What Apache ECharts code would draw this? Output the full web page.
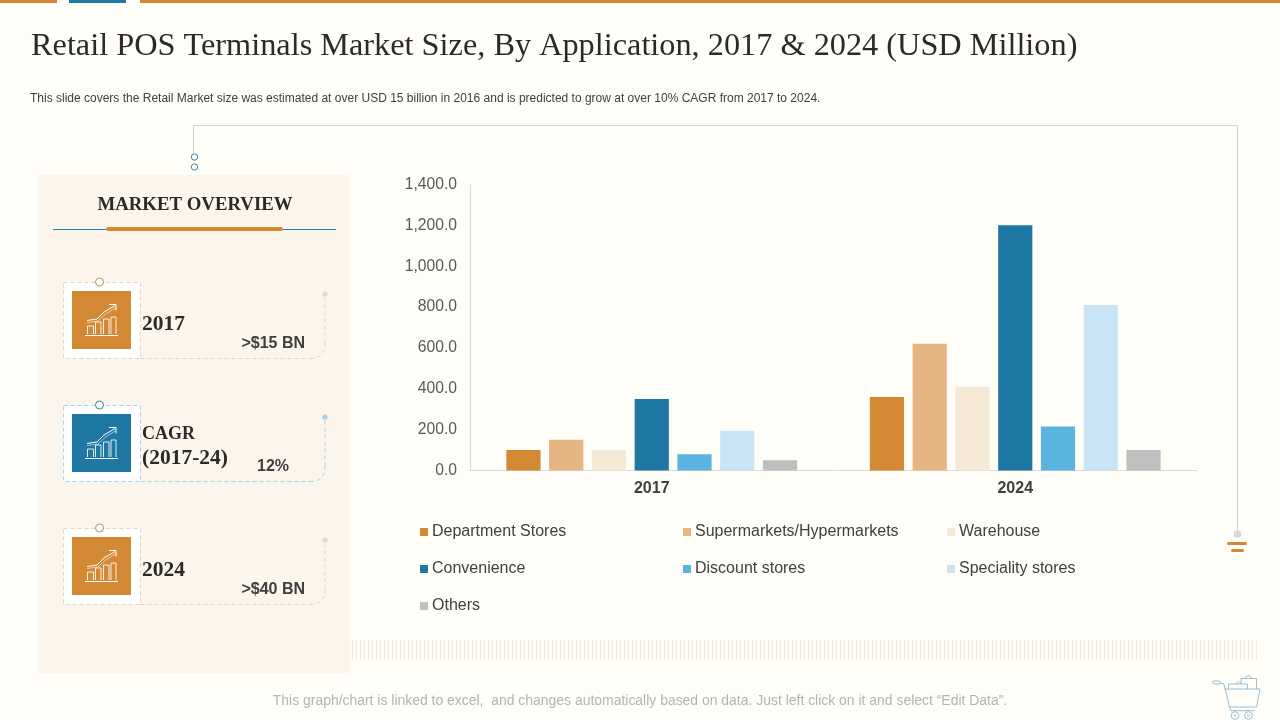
<!DOCTYPE html>
<html>
<head>
<meta charset="utf-8">
<style>
  html, body { margin: 0; padding: 0; background: #fffdf8; }
  #chart { width: 1280px; height: 720px; }
</style>
<script src="https://cdn.jsdelivr.net/npm/echarts@6/dist/echarts.min.js"></script>
</head>
<body>
<div id="chart"></div>
<script>
var categories = ["2017", "2024"];
var departmentStores = [100, 360];
var supermarkets = [150, 620];
var warehouse = [100, 410];
var convenience = [350, 1200];
var discountStores = [80, 215];
var specialityStores = [195, 810];
var others = [50, 100];

var seriesNames = ["Department Stores", "Supermarkets/Hypermarkets", "Warehouse", "Convenience", "Discount stores", "Speciality stores", "Others"];
var seriesValues = [departmentStores, supermarkets, warehouse, convenience, discountStores, specialityStores, others];
var seriesColors = ["#d38833", "#e5b582", "#f6e8d7", "#1f78a4", "#5bb4df", "#c9e5f5", "#bfbfbf"];

var ORANGE = "#d38833";
var BLUE = "#1f78a4";
var SERIF = "'Liberation Serif', serif";
var SANS = "'Liberation Sans', Arial, sans-serif";

var myChart = echarts.init(document.getElementById("chart"));
var g = [];

function rect(x, y, w, h, fill, r) {
  g.push({ type: "rect", silent: true, shape: { x: x, y: y, width: w, height: h, r: r || 0 }, style: { fill: fill } });
}
function line(points, stroke, lineWidth, dash, opacity) {
  g.push({
    type: "polyline", silent: true,
    shape: { points: points },
    style: { fill: "none", stroke: stroke, lineWidth: lineWidth, lineDash: dash || null, opacity: opacity == null ? 1 : opacity }
  });
}
function curve(x1, y1, cx, cy, x2, y2, stroke, lineWidth, dash) {
  g.push({
    type: "bezierCurve", silent: true,
    shape: { x1: x1, y1: y1, cpx1: cx, cpy1: cy, x2: x2, y2: y2 },
    style: { fill: "none", stroke: stroke, lineWidth: lineWidth, lineDash: dash || null }
  });
}
function circle(x, y, r, fill, stroke, lineWidth) {
  g.push({ type: "circle", silent: true, shape: { cx: x, cy: y, r: r }, style: { fill: fill, stroke: stroke, lineWidth: lineWidth || 0 } });
}
function text(x, y, str, font, fill, align) {
  g.push({ type: "text", silent: true, x: x, y: y, style: { text: str, font: font, fill: fill, align: align || "left", verticalAlign: "middle" } });
}

// 顶部色条
rect(0, 0, 57, 3, ORANGE);
rect(69, 0, 57, 3, BLUE);
rect(140, 0, 1140, 3, ORANGE);

// 标题
text(31, 47, "Retail POS Terminals Market Size, By Application, 2017 & 2024 (USD Million)", "32.3px " + SERIF, "#2b2a28");
text(30, 99, "This slide covers the Retail Market size was estimated at over USD 15 billion in 2016 and is predicted to grow at over 10% CAGR from 2017 to 2024.", "12px " + SANS, "#404040");

// 外框线
line([[193.5, 153], [193.5, 125.5], [1237.5, 125.5], [1237.5, 531]], "#d2d2d2", 1);
circle(194.5, 157, 3.2, "none", "#3d86ad", 1);
circle(194.5, 167, 3.2, "none", "#3d86ad", 1);
circle(1237.5, 534, 3.8, "#d9d9d9", "none", 0);
rect(1227, 542, 20, 3, ORANGE, 1.5);
rect(1231, 549, 13, 3, ORANGE, 1.5);

// 左侧面板
rect(38, 175, 312, 498, "#fbf5ec");
text(195, 205, "MARKET OVERVIEW", "bold 18.8px " + SERIF, "#2b2a28", "center");
line([[53, 229.5], [336, 229.5]], "#2a80a8", 1);
rect(106, 227, 177, 4, ORANGE, 2);

function card(top, color, dashColor, ringColor, dotColor) {
  var x = 63.5, y = top + 0.5;
  var dash = [4, 3];
  rect(x, y, 77, 76, "#ffffff");
  line([[x, y], [x + 77, y], [x + 77, y + 76], [x, y + 76], [x, y]], dashColor, 1, dash);
  line([[x + 77, y + 76], [310, y + 76]], dashColor, 1, dash);
  curve(310, y + 76, 325, y + 76, 325, y + 61, dashColor, 1, dash);
  line([[325, y + 61], [325, y + 12]], dashColor, 1, dash);
  circle(325, y + 11.5, 2.6, dotColor, "none", 0);
  circle(99.5, y - 0.5, 4, "#ffffff", ringColor, 1);
  rect(72, top + 9, 59, 58, color);
  // 图标
  var ox = 72, oy = top + 9;
  function p(a) {
    return a.map(function (pt) { return [ox + pt[0], oy + pt[1]]; });
  }
  var ic = "#ffffff";
  line(p([[13, 44.5], [46, 44.5]]), ic, 1);
  line(p([[15.5, 43], [15.5, 35], [21.5, 35], [21.5, 43]]), ic, 1, null, 0.85);
  line(p([[23.5, 43], [23.5, 31], [29, 31], [29, 43]]), ic, 1, null, 0.85);
  line(p([[31.5, 43], [31.5, 28], [37, 28], [37, 43]]), ic, 1, null, 0.85);
  line(p([[39, 43], [39, 26], [44, 26], [44, 43]]), ic, 1, null, 0.85);
  line(p([[15, 29.5], [25, 28], [32, 21], [43, 14.5]]), ic, 1);
  line(p([[15, 31.5], [26, 30], [33, 23.5], [44, 16.5]]), ic, 0.8, null, 0.7);
  line(p([[37, 13.5], [44, 13.5], [44, 19.5]]), ic, 1);
}
card(282, ORANGE, "#e8d5bd", "#b9925c", "#eed6bb");
card(405, BLUE, "#a9d3e8", "#3d7fa3", "#a6d0e8");
card(528, ORANGE, "#e8d5bd", "#b9925c", "#eed6bb");

var cardHead = "bold 21.5px " + SERIF;
var cardValue = "bold 16px " + SANS;
text(142, 324, "2017", cardHead, "#2b2a28");
text(305, 344, ">$15 BN", cardValue, "#404040", "right");
text(142, 434, "CAGR", "bold 18px " + SERIF, "#2b2a28");
text(142, 458, "(2017-24)", cardHead, "#2b2a28");
text(289, 467, "12%", cardValue, "#404040", "right");
text(142, 570, "2024", cardHead, "#2b2a28");
text(305, 590, ">$40 BN", cardValue, "#404040", "right");

// 底部竖纹
for (var hx = 352.5; hx < 1258; hx += 4) {
  line([[hx, 640], [hx, 660]], "#f3ead9", 1);
}

text(640, 701, "This graph/chart is linked to excel,  and changes automatically based on data. Just left click on it and select “Edit Data”.", "13.95px " + SANS, "#b4b4b4", "center");

// 购物车
var cart = "#7fb0ca";
line([[1220, 683], [1224, 684], [1229.5, 707], [1256.5, 707], [1260, 689], [1224.5, 689]], cart, 0.8);
line([[1229.5, 707], [1231, 710.7], [1255, 710.7]], cart, 0.8);
g.push({ type: "rect", silent: true, shape: { x: 1212.5, y: 681, width: 8, height: 3, r: 1.5 }, style: { fill: "none", stroke: cart, lineWidth: 0.8 } });
circle(1235, 715.5, 3.8, "none", cart, 0.8);
circle(1248.5, 715.5, 3.8, "none", cart, 0.8);
circle(1235, 715.5, 1, "none", cart, 0.6);
circle(1248.5, 715.5, 1, "none", cart, 0.6);
line([[1228.5, 689], [1228.5, 684], [1247.5, 684], [1247.5, 689]], cart, 0.8);
line([[1241, 684], [1241, 678.5], [1256.5, 678.5], [1256.5, 689]], cart, 0.8);
curve(1245, 678.5, 1248.5, 672.5, 1252, 678.5, cart, 0.8);
curve(1236, 684, 1238.5, 679, 1241, 684, cart, 0.8);

// 图例分三列
function legendColumn(left, names) {
  return {
    left: left, top: 523, padding: 0, orient: "vertical", itemWidth: 8, itemHeight: 8, itemGap: 19, icon: "rect",
    selectedMode: false, data: names,
    textStyle: { fontFamily: SANS, fontSize: 16, color: "#404040", padding: [0, 0, 0, -1], lineHeight: 18, height: 18 }
  };
}

var option = {
  backgroundColor: "#fffdf8",
  animation: false,
  graphic: { elements: g },
  legend: [
    legendColumn(420, [seriesNames[0], seriesNames[3], seriesNames[6]]),
    legendColumn(683, [seriesNames[1], seriesNames[4]]),
    legendColumn(947, [seriesNames[2], seriesNames[5]])
  ],
  grid: { left: 470, top: 184.5, width: 727, height: 286, containLabel: false },
  xAxis: [{
    type: "category",
    data: categories,
    axisTick: { show: false },
    axisLine: { lineStyle: { color: "#d9d9d9", width: 1 } },
    axisLabel: { fontFamily: SANS, fontSize: 16, fontWeight: "bold", color: "#404040", margin: 10 }
  }],
  yAxis: [{
    type: "value",
    min: 0,
    max: 1400,
    interval: 200,
    splitLine: { show: false },
    axisTick: { show: false },
    axisLine: { show: true, lineStyle: { color: "#d9d9d9", width: 1 } },
    axisLabel: {
      fontFamily: SANS, fontSize: 15.7, color: "#595959", margin: 13, padding: [4, 0, 0, 0],
      formatter: function (v) { return v.toLocaleString("en-US", { minimumFractionDigits: 1, maximumFractionDigits: 1 }); }
    }
  }],
  series: seriesNames.map(function (name, i) {
    return {
      name: name,
      type: "bar",
      data: seriesValues[i],
      barGap: "25%",
      barCategoryGap: "20%",
      itemStyle: { color: seriesColors[i] }
    };
  })
};

myChart.setOption(option);
</script>
</body>
</html>
